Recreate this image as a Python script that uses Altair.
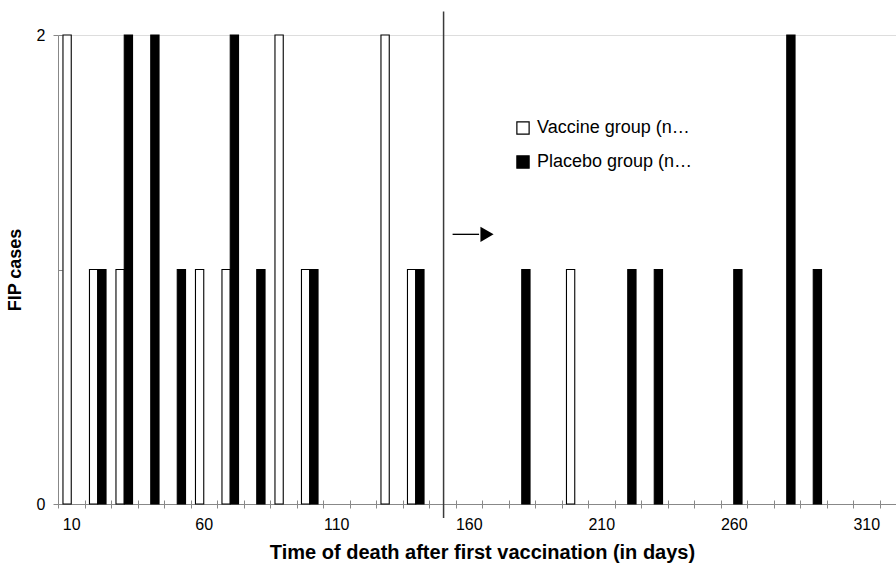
import altair as alt
import pandas as pd

# ---- data ----
day_categories = [10, 20, 30, 40, 50, 60, 70, 80, 90, 100, 110, 120, 130, 140, 150, 160,
                  170, 180, 190, 200, 210, 220, 230, 240, 250, 260, 270, 280, 290, 300, 310, 320]
vaccine_days = [10, 20, 30, 60, 70, 90, 100, 130, 140, 200]
vaccine_cases = [2, 1, 1, 1, 1, 2, 1, 2, 1, 1]
placebo_days = [20, 30, 40, 50, 70, 80, 100, 140, 180, 220, 230, 260, 280, 290]
placebo_cases = [1, 2, 2, 1, 2, 1, 1, 1, 1, 1, 1, 1, 2, 1]
groups = ["Vaccine group (n=13)", "Placebo group (n=18)"]
group_colors = ["white", "black"]
y_ticks = [0, 1, 2]
x_label_every = 50

# annotation (in data units)
divider_day = [150]
divider_from = [-0.06]
divider_to = [2.1]
arrow_days = [150, 160]
arrow_level = [1.15, 1.15]
arrow_head_day = [170]

rows = []
for d, c in zip(vaccine_days, vaccine_cases):
    rows.append({"day": d, "cases": c, "group": groups[0]})
for d, c in zip(placebo_days, placebo_cases):
    rows.append({"day": d, "cases": c, "group": groups[1]})
df = pd.DataFrame(rows)

div_df = pd.DataFrame({"day": divider_day, "y": divider_from, "y2": divider_to})
arrow_df = pd.DataFrame({"day": arrow_days, "cases": arrow_level})
head_df = pd.DataFrame({"day": arrow_head_day, "cases": [arrow_level[0]]})

FONT = "Liberation Sans"
W, H = 838, 469

xscale = alt.Scale(domain=day_categories, paddingInner=0, paddingOuter=0, rangeMax=848)
yscale = alt.Scale(domain=[0, 2], nice=False, zero=True)

bars = alt.Chart(df).mark_bar(stroke="black", strokeWidth=1.1).encode(
    x=alt.X("day:O", scale=xscale, sort=None,
            axis=alt.Axis(title="Time of death after first vaccination (in days)",
                          orient="bottom", labelAngle=0, tickBand="extent",
                          labelExpr=f"datum.value % {x_label_every} == 10 ? datum.label : ''",
                          labelFontSize=16, labelPadding=8, tickSize=4,
                          titleFontSize=20, titleFontWeight="bold", titlePadding=10)),
    xOffset=alt.XOffset("group:N", scale=alt.Scale(domain=groups, paddingInner=0, paddingOuter=0.6)),
    y=alt.Y("cases:Q", scale=yscale,
            axis=alt.Axis(title="FIP cases", values=y_ticks, format="d", orient="left",
                          labelFontSize=16, labelPadding=8, tickSize=5,
                          titleFontSize=18, titleFontWeight="bold", titlePadding=12)),
    fill=alt.Fill("group:N", scale=alt.Scale(domain=groups, range=group_colors),
                  legend=alt.Legend(orient="none", legendX=456, legendY=84, title=None,
                                    symbolType="square", symbolSize=150,
                                    symbolStrokeColor="black", symbolStrokeWidth=1.2,
                                    labelFontSize=18, labelFont=FONT, labelColor="black",
                                    labelOffset=5, rowPadding=16)),
)

divider = alt.Chart(div_df).mark_rule(color="#3a3a3a", strokeWidth=1.5).encode(
    x=alt.X("day:O", scale=xscale, bandPosition=0.55,
            axis=alt.Axis(orient="top", offset=-H, labels=False, domain=False,
                          tickBand="extent", tickSize=4, title=None)),
    y=alt.Y("y:Q", scale=yscale,
            axis=alt.Axis(orient="right", offset=-W, labels=False, domain=False,
                          values=y_ticks, tickSize=4, title=None)),
    y2="y2:Q",
)

arrow = alt.Chart(arrow_df).mark_line(color="black", strokeWidth=1.3).encode(
    x=alt.X("day:O", scale=xscale, bandPosition=0.89, axis=None),
    y=alt.Y("cases:Q", scale=yscale, axis=None),
)

head = alt.Chart(head_df).mark_point(shape="triangle-right", filled=True, size=230,
                                     color="black", opacity=1).encode(
    x=alt.X("day:O", scale=xscale, bandPosition=0.19, axis=None),
    y=alt.Y("cases:Q", scale=yscale, axis=None),
)

chart = alt.layer(bars, divider, arrow, head).resolve_axis(
    x="independent", y="independent"
).properties(
    width=W, height=H,
    padding={"left": 58, "top": 35, "right": 0, "bottom": 67},
    autosize="none",
).configure_view(strokeWidth=0).configure_axis(
    labelFont=FONT, titleFont=FONT, labelColor="black", titleColor="black",
    domainColor="black", tickColor="black", domainWidth=1, tickWidth=1, grid=False,
).configure(background="white")

chart.save("out.html", embed_options={"renderer": "svg", "actions": False})
